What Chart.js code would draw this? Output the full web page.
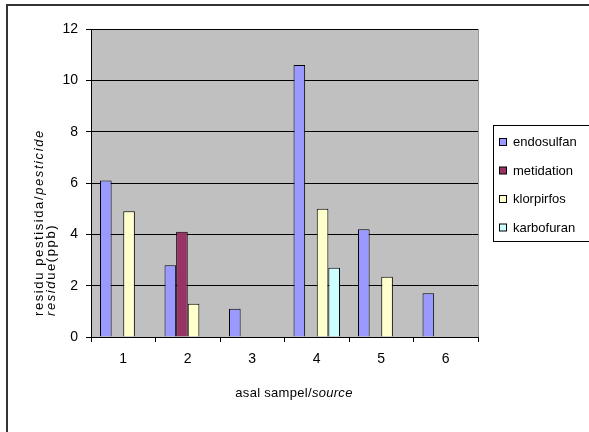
<!DOCTYPE html>
<html>
<head>
<meta charset="utf-8">
<script src="https://cdn.jsdelivr.net/npm/chart.js@4/dist/chart.umd.min.js"></script>
<style>
  html, body { margin: 0; padding: 0; background: #fff; }
  canvas { display: block; }
</style>
</head>
<body>
<canvas id="grafico" width="589" height="432"></canvas>
<script>
// data
const categories = ['1', '2', '3', '4', '5', '6'];
const endosulfan = [6.1, 2.8, 1.1, 10.6, 4.2, 1.7];
const metidation = [null, 4.1, null, null, null, null];
const klorpirfos = [4.9, 1.3, null, 5.0, 2.35, null];
const karbofuran = [null, null, null, 2.7, null, null];
const yTicks = [0, 2, 4, 6, 8, 10, 12];

const FONT = "'Liberation Sans', Arial, sans-serif";

// draws a run of text pieces, some italic, one after the other
function drawParts(ctx, parts, x, y, size, spacing) {
    let cx = x;
    parts.forEach(p => {
        ctx.font = (p.italic ? 'italic ' : '') + size + 'px ' + FONT;
        ctx.letterSpacing = spacing + 'px';
        ctx.fillText(p.text, cx, y);
        cx += ctx.measureText(p.text).width;
    });
}

const frame = {
    id: 'frame',
    beforeDraw(chart) {
        const ctx = chart.ctx;
        const a = chart.chartArea;
        ctx.save();
        ctx.fillStyle = '#fff';
        ctx.fillRect(0, 0, chart.width, chart.height);
        ctx.strokeStyle = '#333';
        ctx.lineWidth = 2;
        ctx.strokeRect(7, 5, 700, 600);
        ctx.fillStyle = '#c0c0c0';
        ctx.fillRect(a.left, a.top, a.right - a.left, a.bottom - a.top);
        ctx.strokeStyle = '#999';
        ctx.lineWidth = 1;
        ctx.beginPath();
        ctx.moveTo(a.right + 0.5, a.top);
        ctx.lineTo(a.right + 0.5, a.bottom);
        ctx.stroke();
        ctx.restore();
    },
    afterDraw(chart) {
        const ctx = chart.ctx;
        ctx.save();
        ctx.fillStyle = '#000';
        ctx.textBaseline = 'alphabetic';
        ctx.textAlign = 'left';

        // y axis title, two lines rotated
        ctx.save();
        ctx.translate(0, 316);
        ctx.rotate(-Math.PI / 2);
        drawParts(ctx, [{text: 'residu pestisida/'}, {text: 'pesticide', italic: true}], 0, 43, 13, 1.6);
        drawParts(ctx, [{text: 'resid', italic: true}, {text: 'ue(ppb)'}], 0, 55, 13, 1.6);
        ctx.restore();

        // x axis title
        ctx.font = '13px ' + FONT;
        ctx.letterSpacing = '0.3px';
        const p1 = 'asal sampel/', p2 = 'source';
        let w = ctx.measureText(p1).width;
        ctx.font = 'italic 13px ' + FONT;
        w += ctx.measureText(p2).width;
        drawParts(ctx, [{text: p1}, {text: p2, italic: true}], 294 - w / 2, 397, 13, 0.3);

        // legend
        ctx.letterSpacing = '0px';
        ctx.strokeStyle = '#000';
        ctx.lineWidth = 1;
        ctx.strokeRect(493.5, 125.5, 100, 116);
        ctx.font = '13px ' + FONT;
        ctx.textBaseline = 'middle';
        chart.data.datasets.forEach((ds, i) => {
            const y = 142 + i * 28.5;
            ctx.fillStyle = ds.backgroundColor;
            ctx.fillRect(499.5, y - 3.5, 7, 7);
            ctx.strokeRect(499.5, y - 3.5, 7, 7);
            ctx.fillStyle = '#000';
            ctx.fillText(ds.label, 513, y + 0.5);
        });
        ctx.restore();
    }
};

new Chart(document.getElementById('grafico'), {
    type: 'bar',
    data: {
        labels: categories,
        datasets: [
            {label: 'endosulfan', data: endosulfan, backgroundColor: '#9999ff'},
            {label: 'metidation', data: metidation, backgroundColor: '#993366'},
            {label: 'klorpirfos', data: klorpirfos, backgroundColor: '#ffffcc'},
            {label: 'karbofuran', data: karbofuran, backgroundColor: '#ccffff'}
        ]
    },
    options: {
        responsive: false,
        animation: false,
        layout: {padding: {left: 0, right: 111, top: 29, bottom: 0}},
        datasets: {
            bar: {
                borderColor: '#000',
                borderWidth: 1,
                borderSkipped: 'bottom',
                categoryPercentage: 0.72,
                barPercentage: 1
            }
        },
        plugins: {
            legend: {display: false},
            tooltip: {enabled: false}
        },
        scales: {
            x: {
                grid: {offset: true, drawOnChartArea: false, tickLength: 5, tickColor: '#000'},
                border: {color: '#000'},
                ticks: {color: '#000', font: {family: FONT, size: 14}, padding: 9},
                afterFit(s) { s.height = 95; }
            },
            y: {
                min: 0,
                max: 12,
                afterBuildTicks(s) { s.ticks = yTicks.map(v => ({value: v})); },
                grid: {color: '#000', tickLength: 5, tickColor: '#000'},
                border: {color: '#000'},
                ticks: {color: '#000', font: {family: FONT, size: 14}, padding: 8},
                afterFit(s) { s.width = 91; }
            }
        }
    },
    plugins: [frame]
});
</script>
</body>
</html>
